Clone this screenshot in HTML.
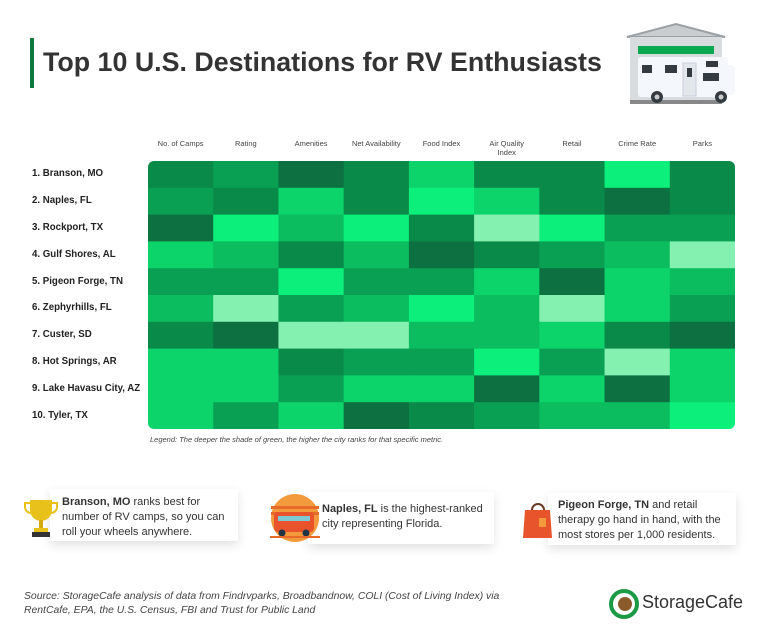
<!DOCTYPE html>
<html><head><meta charset="utf-8"><style>
body{margin:0;width:770px;height:642px;background:#fff;font-family:"Liberation Sans",sans-serif;position:relative;overflow:hidden;color:#222}
.abs{position:absolute}
.box{position:absolute;background:#fff;box-shadow:0 4px 10px rgba(0,0,0,0.12);font-size:11px;line-height:15px;color:#333}
.hdr{position:absolute;font-size:7.5px;color:#444;text-align:center;line-height:9px}
.rl{position:absolute;left:32px;font-size:9.7px;font-weight:bold;color:#222}
</style></head><body>
<div class="abs" style="left:30px;top:38px;width:4px;height:50px;background:#0a7a3e"></div>
<div class="abs" style="left:43px;top:47px;font-size:26.8px;font-weight:bold;color:#333">Top 10 U.S. Destinations for RV Enthusiasts</div>
<svg class="abs" style="left:590px;top:15px" width="170" height="100">
<polygon points="37,22 86,9 135,22" fill="#c9cdd0" stroke="#9aa0a4" stroke-width="2"/>
<rect x="40" y="22" width="92" height="67" fill="#d9dcde"/>
<rect x="48" y="31" width="76" height="8" fill="#0aa84f"/>
<rect x="48" y="42" width="90" height="40" rx="3" fill="#f4f7fb"/>
<rect x="130" y="50" width="15" height="30" rx="4" fill="#f4f7fb"/>
<rect x="52" y="50" width="10" height="8" fill="#333a40"/><rect x="75" y="50" width="12" height="8" fill="#333a40"/>
<rect x="93" y="48" width="13" height="33" fill="#e2e7ec" stroke="#ccd"/><rect x="97" y="53" width="5" height="9" fill="#333a40"/>
<rect x="116" y="46" width="12" height="6" fill="#333a40"/><rect x="113" y="58" width="16" height="8" fill="#333a40"/>
<rect x="40" y="85" width="92" height="4" fill="#888"/>
<circle cx="67" cy="82" r="6" fill="#333a40"/><circle cx="67" cy="82" r="2.5" fill="#ccc"/>
<circle cx="131" cy="82" r="6" fill="#333a40"/><circle cx="131" cy="82" r="2.5" fill="#ccc"/>
</svg>
<div id="chart"></div>
<div class="abs" style="left:150px;top:435px;font-size:7.5px;font-style:italic;color:#444">Legend: The deeper the shade of green, the higher the city ranks for that specific metric.</div>

<div class="box" style="left:50px;top:489px;width:188px;height:52px;padding:6px 0 0 12px;box-sizing:border-box"><b>Branson, MO</b> ranks best for number of RV camps, so you can roll your wheels anywhere.</div>
<svg class="abs" style="left:24px;top:497px" width="34" height="44"><path d="M6 3h22v10a11 11 0 0 1-22 0z" fill="#e8c21a"/><path d="M6 6H1v4a6 6 0 0 0 6 6M28 6h5v4a6 6 0 0 1-6 6" fill="none" stroke="#e8c21a" stroke-width="2"/><rect x="15" y="23" width="4" height="8" fill="#d4a80f"/><rect x="10" y="31" width="14" height="4" fill="#e8c21a"/><rect x="8" y="35" width="18" height="5" fill="#333"/></svg>

<div class="box" style="left:308px;top:492px;width:186px;height:52px;padding:10px 0 0 14px;box-sizing:border-box"><b>Naples, FL</b> is the highest-ranked city representing Florida.</div>
<svg class="abs" style="left:268px;top:492px" width="54" height="52"><circle cx="27" cy="26" r="24" fill="#f29a3c"/><rect x="3" y="14" width="48" height="3" fill="#e86a2a"/><rect x="3" y="20" width="48" height="3" fill="#e86a2a"/><rect x="6" y="20" width="40" height="20" rx="4" fill="#e8532c"/><rect x="10" y="24" width="32" height="5" fill="#7fc9d6"/><circle cx="14" cy="41" r="3.5" fill="#234"/><circle cx="38" cy="41" r="3.5" fill="#234"/><rect x="2" y="44" width="50" height="2" fill="#e86a2a"/></svg>

<div class="box" style="left:548px;top:493px;width:188px;height:52px;padding:5px 0 0 10px;box-sizing:border-box"><b>Pigeon Forge, TN</b> and retail therapy go hand in hand, with the most stores per 1,000 residents.</div>
<svg class="abs" style="left:522px;top:500px" width="34" height="40"><path d="M10 10a6 6 0 0 1 12 0" fill="none" stroke="#6a3a22" stroke-width="2"/><polygon points="3,10 28,10 30,38 1,38" fill="#e8542c"/><rect x="17" y="18" width="7" height="9" fill="#f29a3c"/></svg>

<div class="abs" style="left:24px;top:590px;font-size:10.4px;font-style:italic;color:#444;line-height:14px">Source: StorageCafe analysis of data from Findrvparks, Broadbandnow, COLI (Cost of Living Index) via<br>RentCafe, EPA, the U.S. Census, FBI and Trust for Public Land</div>
<svg class="abs" style="left:609px;top:589px" width="30" height="30"><circle cx="15" cy="15" r="13" fill="none" stroke="#1a9a45" stroke-width="4"/><circle cx="16" cy="15" r="7" fill="#8a5a2a"/></svg>
<div class="abs" style="left:642px;top:592px;font-size:18px;color:#333">StorageCafe</div>

<script>
const metrics=["No. of Camps","Rating","Amenities","Net Availability","Food Index","Air Quality Index","Retail","Crime Rate","Parks"];
const cities=["1. Branson, MO","2. Naples, FL","3. Rockport, TX","4. Gulf Shores, AL","5. Pigeon Forge, TN","6. Zephyrhills, FL","7. Custer, SD","8. Hot Springs, AR","9. Lake Havasu City, AZ","10. Tyler, TX"];
const r1=[5,4,6,5,2,5,5,1,5];
const r2=[4,5,2,5,1,2,5,6,5];
const r3=[6,1,3,1,5,0,1,4,4];
const r4=[2,3,5,3,6,5,4,3,0];
const r5=[4,4,1,4,4,2,6,2,3];
const r6=[3,0,4,3,1,3,0,2,4];
const r7=[5,6,0,0,3,3,2,5,6];
const r8=[2,2,5,4,4,1,4,0,2];
const r9=[2,2,4,2,2,6,2,6,2];
const r10=[2,4,2,6,5,4,3,3,1];
const shades=[r1,r2,r3,r4,r5,r6,r7,r8,r9,r10];
const palette=["#84f1b0","#0cef7a","#0cd46b","#0bbd5e","#0aa054","#0a8a48","#0c7040"];
const X0=148,X1=735,Y0=161,Y1=429;
const cw=(X1-X0)/metrics.length, rh=(Y1-Y0)/cities.length;
const xs=i=>X0+i*cw, ys=j=>Y0+j*rh;
const root=document.getElementById('chart');
const NS="http://www.w3.org/2000/svg";
const svg=document.createElementNS(NS,'svg');
svg.setAttribute('width','770');svg.setAttribute('height','642');
svg.setAttribute('style','position:absolute;left:0;top:0');
const defs=document.createElementNS(NS,'defs');
defs.innerHTML=`<clipPath id="cp"><rect x="${X0}" y="${Y0}" width="${X1-X0}" height="${Y1-Y0}" rx="6"/></clipPath>`;
svg.appendChild(defs);
const g=document.createElementNS(NS,'g');g.setAttribute('clip-path','url(#cp)');
svg.appendChild(g);
shades.forEach((row,j)=>row.forEach((v,i)=>{
  const r=document.createElementNS(NS,'rect');
  r.setAttribute('x',xs(i));r.setAttribute('y',ys(j));
  r.setAttribute('width',cw+0.5);r.setAttribute('height',rh+0.5);
  r.setAttribute('fill',palette[v]);
  
  
  g.appendChild(r);
}));
root.appendChild(svg);
metrics.forEach((m,i)=>{
  const d=document.createElement('div');d.className='hdr';
  d.style.left=xs(i)+'px';d.style.width=cw+'px';d.style.top='139px';
  d.innerHTML=m==="Air Quality Index"?"Air Quality<br>Index":m;
  
  
  root.appendChild(d);
});
cities.forEach((c,j)=>{
  const d=document.createElement('div');d.className='rl';
  d.style.top=(ys(j)+rh/2-6)+'px';d.textContent=c;
  
  
  root.appendChild(d);
});
</script>
</body></html>
